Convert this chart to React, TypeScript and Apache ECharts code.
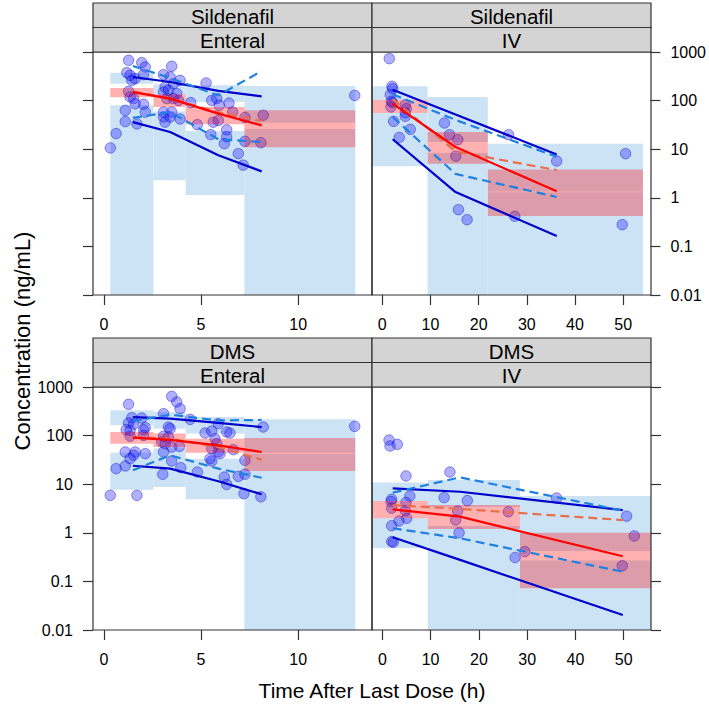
import React, { useEffect, useRef } from "react";
import * as echarts from "echarts";

const FONT = '"Liberation Sans", Arial, Helvetica, sans-serif';

// ---------- Sildenafil / Enteral ----------
const seObs = [[1.27,674],[1.95,604],[2.13,491],[3.49,507],[1.18,376],[1.35,331],[1.44,261],[1.61,283],[2.04,342],[3.07,342],[3.41,306],[3.92,261],[3.58,223],[3.15,190],[3.07,150],[3.32,163],[3.75,139],[3.24,110],[3.58,110],[3.84,101],[1.27,155],[1.35,119],[1.53,110],[1.61,86],[2.04,84],[1.1,63],[2.13,58],[1.1,37],[1.7,33],[0.63,21],[0.33,10.6],[3.07,58],[3.49,58],[3.07,46],[3.15,36],[3.41,46],[3.92,42],[4.47,91],[5.26,230],[5.55,101],[5.81,110],[5.94,80],[6.44,89],[6.63,58],[7.26,45],[8.2,50],[5.63,36],[5.89,39],[4.81,32],[5.5,20],[6.32,25],[6.32,18],[6.2,13],[7.26,14.5],[8.08,13.6],[6.92,8.1],[7.17,4.7],[12.91,128]];
const seEdges = [0.33, 2.55, 4.21, 7.23, 12.94];
const sePI95 = [[223,376],[135,216],[94,206],[35,200]];
const sePI50 = [[117,182],[74,135],[32.5,74],[11,63]];
const sePI05 = [[0.01,80],[2.3,60],[1.14,23.7],[0.01,26]];
const seMid = [1.49, 3.41, 5.89, 8.12];
const seObs95 = [515, 292, 128, 406];
const seObs50 = [150, 110, 54, 31];
const seObs05 = [44, 58, 16, 14.1];
const sePred95 = [306, 241, 158, 122];
const sePred50 = [155, 110, 58, 38];
const sePred05 = [36, 22.6, 7.5, 3.5];

// ---------- Sildenafil / IV ----------
const siObs = [[1.45,730],[2.0,197],[2.15,176],[1.66,132],[1.87,97],[1.8,74],[2.15,91],[4.77,82],[4.98,68],[4.77,56.5],[4.77,47.5],[2.35,37.4],[5.8,25.6],[3.53,17.5],[12.9,34.6],[13.95,19.9],[15.67,15.7],[15.26,7.2],[26.2,19.9],[36.2,5.7],[50.5,8.1],[15.8,0.57],[17.6,0.355],[27.5,0.416],[49.8,0.28]];
const siEdges = [-2.14, 9.4, 21.9, 54.1];
const siPI95 = [[104,197],[14.1,119],[1.34,13]];
const siPI50 = [[55.6,104],[5.0,22.6],[0.42,3.8]];
const siPI05 = [[4.45,55.6],[0.01,8.4],[0.01,1.3]];
const siMid = [2.15, 15.2, 36.2];
const siObs95 = [135, 40, 7.0];
const siObs50 = [86.5, 11.1, 1.36];
const siObs05 = [46, 3.1, 1.04];
const siPred95 = [168, 52, 7.8];
const siPred50 = [107, 9.0, 3.7];
const siPred05 = [16, 1.31, 0.164];

// ---------- DMS / Enteral ----------
const deObs = [[3.49,643],[3.75,491],[3.92,358],[1.27,440],[1.44,234],[1.95,230],[3.07,283],[4.44,216],[5.89,176],[8.2,150],[12.91,155],[1.27,182],[1.53,171],[1.15,132],[1.35,128],[2.04,132],[2.13,146],[3.32,150],[3.41,139],[1.35,97],[2.04,101],[3.07,97],[3.32,93.5],[2.98,74],[3.15,68],[3.49,58],[3.89,60],[5.21,113],[5.55,124],[6.32,119],[6.49,113],[5.72,86.5],[5.81,68],[5.55,54],[5.89,46],[5.98,42.5],[6.66,51.4],[7.26,31],[1.1,46],[1.61,46],[1.53,39.3],[2.13,42.5],[3.07,46],[1.35,33.5],[3.49,30],[1.1,23.7],[0.63,20.9],[3.96,21.9],[3.03,16],[4.81,17.8],[5.55,30],[5.46,33.5],[6.2,14],[6.32,9.9],[6.92,14.5],[7.26,16],[7.21,6.4],[8.08,5.5],[0.33,5.9],[1.7,5.9]];
const deEdges = [0.33, 2.55, 4.21, 7.23, 12.94];
const dePI95 = [[163,331],[139,306],[110,241],[44.6,216]];
const dePI50 = [[68,119],[58,110],[44.6,86.5],[18.7,89]];
const dePI05 = [[7.7,44.6],[8.75,54],[4.9,33.5],[0.01,42.5]];
const deMid = [1.49, 3.41, 5.89, 8.12];
const deObs95 = [200, 270, 205, 210];
const deObs50 = [90.6, 82, 63, 46];
const deObs05 = [19.3, 39.3, 20.9, 13.6];
const dePred95 = [241, 223, 182, 150];
const dePred50 = [93.5, 86.5, 58, 32];
const dePred05 = [24, 20.9, 11.5, 6.2];

// ---------- DMS / IV ----------
const diObs = [[1.39,81],[1.59,61],[3.1,66],[4.9,14.8],[14.0,17.8],[12.8,5.3],[17.6,4.6],[5.7,5.7],[1.94,4.9],[1.8,4.4],[1.94,3.2],[4.9,4.2],[4.77,2.86],[5.05,1.99],[3.46,1.75],[1.94,1.4],[1.94,0.66],[2.28,0.64],[15.6,2.8],[15.2,1.83],[15.9,1.0],[26.1,2.7],[36.1,5.2],[50.6,2.2],[52.2,0.86],[29.5,0.41],[27.5,0.31],[49.7,0.21]];
const diEdges = [-2.14, 9.4, 28.5, 55.65];
const diPI95 = [[4.5,10.8],[3.4,12.2],[0.42,5.7]];
const diPI50 = [[1.99,4.5],[1.2,3.73],[0.072,1.0]];
const diPI05 = [[0.48,1.99],[0.01,1.38],[0.01,0.27]];
const diMid = [2.15, 16.1, 49.8];
const diObs95 = [6.7, 13.8, 2.85];
const diObs50 = [3.04, 2.15, 0.33];
const diObs05 = [1.24, 0.77, 0.158];
const diPred95 = [8.2, 7.0, 2.94];
const diPred50 = [3.73, 3.1, 1.83];
const diPred05 = [0.81, 0.277, 0.0204];

// ---------- axes ----------
const enteralTicks = [0, 5, 10];
const ivTicks = [0, 10, 20, 30, 40, 50];
const enteralRange = [-0.56, 13.8];
const ivRange = [-2.14, 55.65];
const yRange = [0.01, 1000];
const drugs = ["Sildenafil", "Sildenafil", "DMS", "DMS"];
const routes = ["Enteral", "IV", "Enteral", "IV"];

const panels = [
  { obs: seObs, edges: seEdges, pi95: sePI95, pi50: sePI50, pi05: sePI05, mid: seMid, o95: seObs95, o50: seObs50, o05: seObs05, p95: sePred95, p50: sePred50, p05: sePred05, ticks: enteralTicks, range: enteralRange, left: 93, top: 52, yPos: "left", yLab: false },
  { obs: siObs, edges: siEdges, pi95: siPI95, pi50: siPI50, pi05: siPI05, mid: siMid, o95: siObs95, o50: siObs50, o05: siObs05, p95: siPred95, p50: siPred50, p05: siPred05, ticks: ivTicks, range: ivRange, left: 372, top: 52, yPos: "right", yLab: true },
  { obs: deObs, edges: deEdges, pi95: dePI95, pi50: dePI50, pi05: dePI05, mid: deMid, o95: deObs95, o50: deObs50, o05: deObs05, p95: dePred95, p50: dePred50, p05: dePred05, ticks: enteralTicks, range: enteralRange, left: 93, top: 387, yPos: "left", yLab: true },
  { obs: diObs, edges: diEdges, pi95: diPI95, pi50: diPI50, pi05: diPI05, mid: diMid, o95: diObs95, o50: diObs50, o05: diObs05, p95: diPred95, p50: diPred50, p05: diPred05, ticks: ivTicks, range: ivRange, left: 372, top: 387, yPos: "right", yLab: false },
];

const PW = 279;
const PH = 243;
const STRIP = 24.5;
const AXC = "#333333";

function rects(edges: number[], ranges: number[][]) {
  return ranges.map((r, i) => [edges[i], edges[i + 1], r[0], r[1]]);
}

function rectRender(fill: string) {
  return (params: any, api: any) => {
    const a = api.coord([api.value(0), api.value(3)]);
    const b = api.coord([api.value(1), api.value(2)]);
    return {
      type: "rect",
      shape: { x: a[0], y: a[1], width: b[0] - a[0], height: b[1] - a[1] },
      style: { fill },
    };
  };
}

function fmtLog(v: number) {
  const e = Math.round(Math.log10(v));
  return e >= 0 ? String(Math.pow(10, e)) : Math.pow(10, e).toFixed(-e);
}

function buildOption() {
  const grid: any[] = [];
  const xAxis: any[] = [];
  const yAxis: any[] = [];
  const series: any[] = [];
  const graphic: any[] = [];

  panels.forEach((p, i) => {
    grid.push({ left: p.left, top: p.top, width: PW, height: PH, show: false });
    xAxis.push({
      type: "value", gridIndex: i, min: p.range[0], max: p.range[1], position: "bottom",
      axisLine: { show: false, onZero: false }, splitLine: { show: false },
      axisTick: { show: true, length: 10, customValues: p.ticks, lineStyle: { color: AXC, width: 1.2 } },
      axisLabel: { customValues: p.ticks, margin: 21, fontSize: 16, color: "#000", fontFamily: FONT },
    });
    yAxis.push({
      type: "log", logBase: 10, gridIndex: i, min: yRange[0], max: yRange[1], position: p.yPos,
      axisLine: { show: false, onZero: false }, splitLine: { show: false },
      axisTick: { show: true, length: 10, lineStyle: { color: AXC, width: 1.2 } },
      axisLabel: { show: p.yLab, formatter: fmtLog, margin: 20, fontSize: 16, color: "#000", fontFamily: FONT, showMinLabel: true, showMaxLabel: true },
    });
    const blue = rects(p.edges, p.pi95).concat(rects(p.edges, p.pi05));
    series.push({
      type: "custom", xAxisIndex: i, yAxisIndex: i, z: 1, clip: true,
      encode: { x: [0, 1], y: [2, 3] }, data: blue, renderItem: rectRender("#cce3f6"),
    });
    series.push({
      type: "scatter", xAxisIndex: i, yAxisIndex: i, z: 2, data: p.obs, symbolSize: 10.5,
      itemStyle: { color: "rgba(20,20,255,0.42)", borderColor: "rgba(0,0,190,0.5)", borderWidth: 1 },
    });
    series.push({
      type: "custom", xAxisIndex: i, yAxisIndex: i, z: 3, clip: true,
      encode: { x: [0, 1], y: [2, 3] }, data: rects(p.edges, p.pi50), renderItem: rectRender("rgba(255,0,0,0.31)"),
    });
    const line = (vals: number[], color: string, dashed: boolean) => ({
      type: "line", xAxisIndex: i, yAxisIndex: i, z: 4, showSymbol: false, symbol: "none",
      data: p.mid.map((t, k) => [t, vals[k]]),
      lineStyle: { color, width: 2.2, type: dashed ? [9, 5] : "solid" },
    });
    series.push(line(p.p95, "#0000cd", false));
    series.push(line(p.p05, "#0000cd", false));
    series.push(line(p.o95, "#1f80e0", true));
    series.push(line(p.o05, "#1f80e0", true));
    series.push(line(p.p50, "#ea6e4a", true));
    series.push(line(p.o50, "#ff0000", false));

    // frame
    graphic.push({
      type: "rect", z: 100, shape: { x: p.left, y: p.top, width: PW, height: PH },
      style: { fill: "none", stroke: AXC, lineWidth: 1.2 },
    });
    // strips
    [drugs[i], routes[i]].forEach((label, k) => {
      const sy = p.top - STRIP * (2 - k);
      graphic.push({
        type: "rect", z: 100, shape: { x: p.left, y: sy, width: PW, height: STRIP },
        style: { fill: "#d4d4d4", stroke: AXC, lineWidth: 1.2 },
      });
      graphic.push({
        type: "text", z: 101, x: p.left + PW / 2, y: sy + STRIP / 2 + 1,
        style: { text: label, fontSize: 20.5, fontFamily: FONT, fill: "#000", align: "center", verticalAlign: "middle" },
      });
    });
  });

  graphic.push({
    type: "text", z: 101, x: 372, y: 690,
    style: { text: "Time After Last Dose (h)", fontSize: 21, fontFamily: FONT, fill: "#000", align: "center", verticalAlign: "middle" },
  });
  graphic.push({
    type: "text", z: 101, x: 22, y: 341, rotation: Math.PI / 2,
    style: { text: "Concentration (ng/mL)", fontSize: 22, fontFamily: FONT, fill: "#000", align: "center", verticalAlign: "middle" },
  });

  return { animation: false, backgroundColor: "#ffffff", grid, xAxis, yAxis, series, graphic };
}

export default function App() {
  const ref = useRef<HTMLDivElement>(null);
  useEffect(() => {
    document.body.style.margin = "0";
    const chart = echarts.init(ref.current as HTMLDivElement, null, { renderer: "svg" });
    chart.setOption(buildOption() as any);
    return () => chart.dispose();
  }, []);
  return <div ref={ref} style={{ width: 709, height: 704 }} />;
}
